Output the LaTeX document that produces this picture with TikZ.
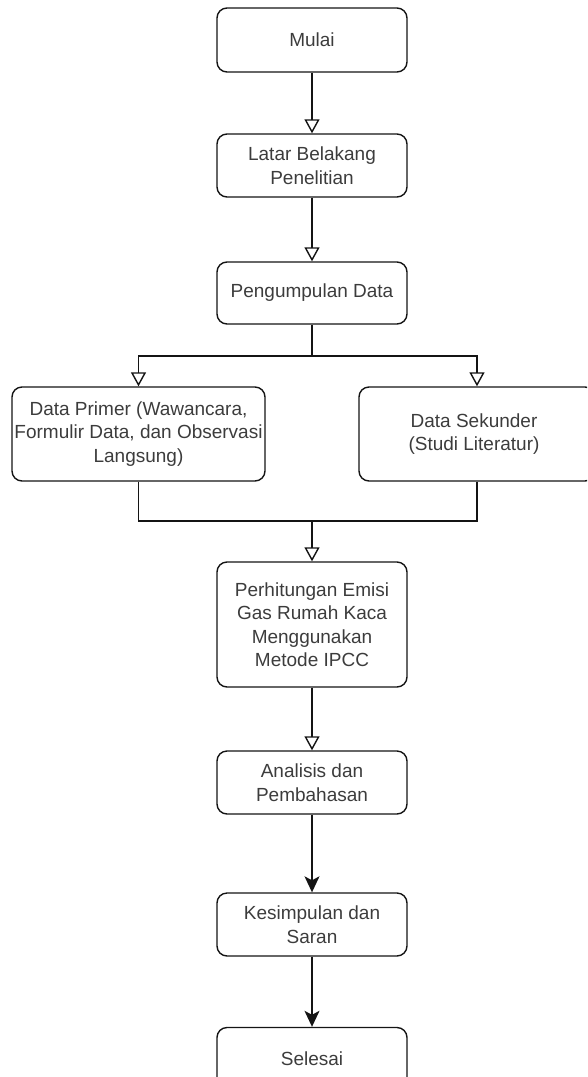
\documentclass[tikz,border=0pt]{standalone}
\usepackage{fontspec}
\setmainfont{Liberation Sans}
\usetikzlibrary{arrows.meta}
\definecolor{txt}{RGB}{60,60,60}
\definecolor{ln}{RGB}{20,20,20}
\begin{document}
\begin{tikzpicture}[x=1pt,y=-1pt,
  box/.style={draw=ln, line width=1.4pt, rounded corners=10pt, align=center,
    text=txt, font=\fontsize{19}{23.5}\selectfont, inner sep=0pt, anchor=center},
  conn/.style={draw=ln, line width=1.4pt},
  openarr/.style={conn, -{Triangle[open, length=14pt, width=15pt, fill=white]}},
  fullarr/.style={conn, -{Stealth[length=16pt, width=15pt, inset=4pt]}}]
\useasboundingbox (0,0) rectangle (587,1077);
\clip (0,0) rectangle (587,1077);
\node[box, minimum width=190pt, minimum height=64pt] (mulai) at (312,40) {Mulai};
\node[box, minimum width=190pt, minimum height=63pt] (latar) at (312,165.5) {Latar Belakang\\Penelitian};
\node[box, minimum width=190pt, minimum height=62pt] (peng) at (312,293) {Pengumpulan Data};
\node[box, minimum width=253pt, minimum height=94pt] (dp) at (138.5,434) {Data Primer (Wawancara,\\Formulir Data, dan Observasi\\Langsung)};
\node[box, minimum width=236pt, minimum height=94pt] (ds) at (477,434) {};
\node[text=txt, font=\fontsize{19}{23.5}\selectfont, align=center] (dst) at (474,434) {Data Sekunder\\(Studi Literatur)};
\node[box, minimum width=190pt, minimum height=125pt] (ph) at (312,624.5) {Perhitungan Emisi\\Gas Rumah Kaca\\Menggunakan\\Metode IPCC};
\node[box, minimum width=190pt, minimum height=63pt] (an) at (312,782.5) {Analisis dan\\Pembahasan};
\node[box, minimum width=190pt, minimum height=63pt] (ks) at (312,924.5) {Kesimpulan dan\\Saran};
\node[box, minimum width=190pt, minimum height=63pt] (sl) at (312,1059) {Selesai};
\coordinate (b) at (312,356);
\coordinate (m) at (312,521);
\draw[openarr] (mulai) -- (latar);
\draw[openarr] (latar) -- (peng);
\draw[conn] (peng.south) -- (b);
\draw[openarr] (b) -| (dp.north);
\draw[openarr] (b) -| (ds.north);
\draw[conn] (dp.south) |- (m);
\draw[conn] (ds.south) |- (m);
\draw[openarr] (m) -- (ph.north);
\draw[openarr] (ph) -- (an);
\draw[fullarr] (an) -- (ks);
\draw[fullarr] (ks) -- (sl);
\end{tikzpicture}
\end{document}
